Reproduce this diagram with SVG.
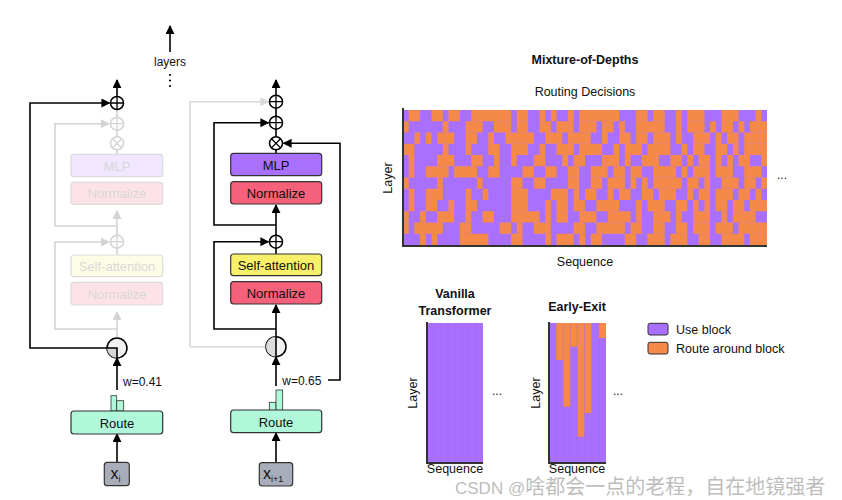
<svg xmlns="http://www.w3.org/2000/svg" width="842" height="500" viewBox="0 0 842 500">
<defs>
<marker id="ah" viewBox="0 0 10 10" refX="9" refY="5" markerWidth="9" markerHeight="9" markerUnits="userSpaceOnUse" orient="auto"><path d="M0,0 L10,5 L0,10 z" fill="#000"/></marker>
<marker id="ahg" viewBox="0 0 10 10" refX="9" refY="5" markerWidth="9" markerHeight="9" markerUnits="userSpaceOnUse" orient="auto"><path d="M0,0 L10,5 L0,10 z" fill="#d9d9d9"/></marker>
<g id="plus"><circle r="6.5" fill="#fff" stroke="#000" stroke-width="1.5"/><path d="M-6.5,0 H6.5 M0,-6.5 V6.5" stroke="#000" stroke-width="1.3"/></g>
<g id="times"><circle r="6.5" fill="#fff" stroke="#000" stroke-width="1.5"/><path d="M-4.6,-4.6 L4.6,4.6 M4.6,-4.6 L-4.6,4.6" stroke="#000" stroke-width="1.3"/></g>
</defs>
<style>
text{font-family:"Liberation Sans",Arial,sans-serif;fill:#111}
.box{stroke:#333;stroke-width:1.2}
.bt{font-size:13px;text-anchor:middle}
.ln{fill:none;stroke:#000;stroke-width:1.6}
.lg{fill:none;stroke:#d9d9d9;stroke-width:1.6}
.mlp{fill:#A970FF}.nrm{fill:#F5607A}.sa{fill:#F9F06A}.rt{fill:#AFF8DA}.xb{fill:#A9ADB9}
.pu{fill:#A970FF}.or{fill:#F5894A}
.ax{stroke:#333;stroke-width:2;fill:none}
.lbl{font-size:12.5px}
.ttl{font-size:12.5px;font-weight:bold;text-anchor:middle}
</style>
<rect width="842" height="500" fill="#fff"/>

<!-- layers indicator -->
<g id="layers">
<line x1="170" y1="52" x2="170" y2="26" class="ln" marker-end="url(#ah)"/>
<text x="170" y="66" font-size="12" text-anchor="middle">layers</text>
<circle cx="170" cy="75" r="1.1" fill="#000"/><circle cx="170" cy="80.5" r="1.1" fill="#000"/><circle cx="170" cy="86" r="1.1" fill="#000"/>
</g>

<!-- Panel 1 faded block -->
<g id="panel1-faded" opacity="0.17">
<path class="ln" d="M117,110 V117 M117,130 V137 M117,150 V154"/>
<path class="ln" d="M117,226 H55 V123.7 H109" marker-end="url(#ah)"/>
<path class="ln" d="M117,235 V211" marker-end="url(#ah)"/>
<path class="ln" d="M117,329 H55 V242 H109" marker-end="url(#ah)"/>
<path class="ln" d="M117,248 V255"/>
<path class="ln" d="M117,338 V312" marker-end="url(#ah)"/>
<use href="#plus" x="117" y="123.7"/>
<use href="#times" x="117" y="143.3"/>
<use href="#plus" x="117" y="241.7"/>
<rect class="box mlp" x="71" y="154.3" width="91.7" height="22.4" rx="3"/>
<text class="bt" x="117" y="170.5">MLP</text>
<rect class="box nrm" x="71" y="182.3" width="91.7" height="22" rx="3"/>
<text class="bt" x="117" y="198">Normalize</text>
<rect class="box sa" x="71" y="255" width="91.7" height="21.7" rx="3"/>
<text class="bt" x="117" y="270.5">Self-attention</text>
<rect class="box nrm" x="71" y="282.3" width="91.7" height="22.7" rx="3"/>
<text class="bt" x="117" y="298.5">Normalize</text>
</g>

<g id="connectors">
<path class="lg" d="M266,346.7 H190 V101.7 H268.5" marker-end="url(#ahg)"/>
<!-- panel 1 -->
<path class="ln" d="M117,96.5 V80" marker-end="url(#ah)"/>
<path class="ln" d="M107,348 H30 V103 H109.5" marker-end="url(#ah)"/>
<path class="ln" d="M117,390 V358" marker-end="url(#ah)"/>
<path class="ln" d="M117,462.3 V434" marker-end="url(#ah)"/>
<!-- panel 2 -->
<path class="ln" d="M276,95.2 V80" marker-end="url(#ah)"/>
<path class="ln" d="M276,108.2 V116.2 M276,129.2 V136.8 M276,149.8 V153.3 M276,248.2 V254"/>
<path class="ln" d="M276,225 H214 V122.7 H268.5" marker-end="url(#ah)"/>
<path class="ln" d="M276,235.2 V205" marker-end="url(#ah)"/>
<path class="ln" d="M276,329 H214 V241.7 H268.5" marker-end="url(#ah)"/>
<path class="ln" d="M276,336.7 V305" marker-end="url(#ah)"/>
<path class="ln" d="M328,380 H340 V143.3 H283.5" marker-end="url(#ah)"/>
<path class="ln" d="M276,386 V357" marker-end="url(#ah)"/>
<path class="ln" d="M276,462.7 V433" marker-end="url(#ah)"/>
</g>

<!-- Panel 1 nodes -->
<g id="p1-add"><use href="#plus" x="117" y="103"/></g>
<g id="p1-gate">
<circle cx="117" cy="348" r="10" fill="#f2f2f2" stroke="#000" stroke-width="1.5"/>
<path d="M107,348 A10,10 0 0 0 117,358 L117,348 Z" fill="#d6d6d6"/>
<path d="M107,348 H117 V358" fill="none" stroke="#000" stroke-width="1.6"/>
</g>
<g id="p1-route">
<rect x="111" y="395.7" width="5.7" height="15.3" fill="#AFF8DA" stroke="#333" stroke-width="0.8"/>
<rect x="116.7" y="400.7" width="7" height="10.3" fill="#AFF8DA" stroke="#333" stroke-width="0.8"/>
<rect class="box rt" x="71" y="411" width="91.7" height="23" rx="3"/>
<text class="bt" x="117" y="427.5">Route</text>
<text x="123" y="386" font-size="12">w=0.41</text>
</g>
<g id="p1-x">
<rect class="box xb" x="104.3" y="462.3" width="25" height="23.4" rx="3"/>
<text x="110.5" y="478.5" font-size="16">x<tspan font-size="9" dy="3">i</tspan></text>
</g>

<!-- Panel 2 nodes -->
<g id="p2-add1"><use href="#plus" x="276" y="101.7"/></g>
<g id="p2-add2"><use href="#plus" x="276" y="122.7"/></g>
<g id="p2-mul"><use href="#times" x="276" y="143.3"/></g>
<g id="p2-mlp"><rect class="box mlp" x="230.7" y="153.3" width="91" height="22.4" rx="3"/><text class="bt" x="276" y="169.5">MLP</text></g>
<g id="p2-norm2"><rect class="box nrm" x="230.7" y="181.7" width="91" height="22.3" rx="3"/><text class="bt" x="276" y="197.5">Normalize</text></g>
<g id="p2-add3"><use href="#plus" x="276" y="241.7"/></g>
<g id="p2-sa"><rect class="box sa" x="230.7" y="254" width="91" height="21.7" rx="3"/><text class="bt" x="276" y="269.5">Self-attention</text></g>
<g id="p2-norm1"><rect class="box nrm" x="230.7" y="281.7" width="91" height="22.3" rx="3"/><text class="bt" x="276" y="297.5">Normalize</text></g>
<g id="p2-gate">
<circle cx="276" cy="346.7" r="10" fill="#f2f2f2" stroke="#000" stroke-width="1.5"/>
<path d="M276,336.7 A10,10 0 0 0 276,356.7 Z" fill="#dcdcdc"/>
<path d="M276,336.7 V356.7" stroke="#000" stroke-width="1.6"/>
</g>
<g id="p2-route">
<rect x="269.3" y="402.3" width="6.7" height="8.7" fill="#AFF8DA" stroke="#333" stroke-width="0.8"/>
<rect x="276" y="390" width="6.7" height="21" fill="#AFF8DA" stroke="#333" stroke-width="0.8"/>
<rect class="box rt" x="230.7" y="410" width="91" height="22.7" rx="3"/>
<text class="bt" x="276" y="426.5">Route</text>
<text x="282.3" y="384.5" font-size="12">w=0.65</text>
</g>
<g id="p2-x">
<rect class="box xb" x="259.3" y="462.7" width="33.4" height="23.3" rx="3"/>
<text x="263" y="478.5" font-size="16">x<tspan font-size="9" dy="3">i+1</tspan></text>
</g>

<!-- Mixture-of-Depths heatmap -->
<g id="mod">
<text class="ttl" x="585" y="64" font-size="12">Mixture-of-Depths</text>
<text x="585" y="96" font-size="12.5" text-anchor="middle" fill="#222">Routing Decisions</text>
<rect class="pu" x="403" y="110" width="364" height="135"/>
<g class="or" transform="translate(403,110) scale(5.6875,11.25)">
<rect x="1" y="0" width="2" height="1"/><rect x="5" y="0" width="2" height="1"/><rect x="8" y="0" width="2" height="1"/><rect x="12" y="0" width="7" height="1"/><rect x="20" y="0" width="2" height="1"/><rect x="24" y="0" width="1" height="1"/><rect x="26" y="0" width="1" height="1"/><rect x="29" y="0" width="1" height="1"/><rect x="31" y="0" width="7" height="1"/><rect x="41" y="0" width="2" height="1"/><rect x="44" y="0" width="2" height="1"/><rect x="48" y="0" width="1" height="1"/><rect x="50" y="0" width="3" height="1"/><rect x="56" y="0" width="3" height="1"/><rect x="62" y="0" width="1" height="1"/>
<rect x="0" y="1" width="1" height="1"/><rect x="7" y="1" width="1" height="1"/><rect x="11" y="1" width="3" height="1"/><rect x="16" y="1" width="3" height="1"/><rect x="20" y="1" width="2" height="1"/><rect x="24" y="1" width="2" height="1"/><rect x="27" y="1" width="3" height="1"/><rect x="31" y="1" width="3" height="1"/><rect x="35" y="1" width="2" height="1"/><rect x="38" y="1" width="1" height="1"/><rect x="41" y="1" width="5" height="1"/><rect x="48" y="1" width="1" height="1"/><rect x="50" y="1" width="3" height="1"/><rect x="54" y="1" width="1" height="1"/><rect x="56" y="1" width="2" height="1"/><rect x="59" y="1" width="1" height="1"/><rect x="61" y="1" width="3" height="1"/>
<rect x="2" y="2" width="1" height="1"/><rect x="4" y="2" width="1" height="1"/><rect x="6" y="2" width="3" height="1"/><rect x="11" y="2" width="2" height="1"/><rect x="15" y="2" width="1" height="1"/><rect x="18" y="2" width="5" height="1"/><rect x="25" y="2" width="3" height="1"/><rect x="29" y="2" width="4" height="1"/><rect x="35" y="2" width="1" height="1"/><rect x="38" y="2" width="2" height="1"/><rect x="41" y="2" width="2" height="1"/><rect x="44" y="2" width="3" height="1"/><rect x="48" y="2" width="1" height="1"/><rect x="51" y="2" width="3" height="1"/><rect x="55" y="2" width="1" height="1"/><rect x="57" y="2" width="2" height="1"/><rect x="60" y="2" width="4" height="1"/>
<rect x="0" y="3" width="2" height="1"/><rect x="7" y="3" width="1" height="1"/><rect x="11" y="3" width="1" height="1"/><rect x="15" y="3" width="2" height="1"/><rect x="19" y="3" width="3" height="1"/><rect x="24" y="3" width="1" height="1"/><rect x="27" y="3" width="3" height="1"/><rect x="31" y="3" width="4" height="1"/><rect x="37" y="3" width="1" height="1"/><rect x="39" y="3" width="3" height="1"/><rect x="43" y="3" width="4" height="1"/><rect x="49" y="3" width="1" height="1"/><rect x="51" y="3" width="2" height="1"/><rect x="55" y="3" width="2" height="1"/><rect x="58" y="3" width="1" height="1"/><rect x="60" y="3" width="4" height="1"/>
<rect x="1" y="4" width="1" height="1"/><rect x="6" y="4" width="3" height="1"/><rect x="12" y="4" width="2" height="1"/><rect x="16" y="4" width="1" height="1"/><rect x="19" y="4" width="1" height="1"/><rect x="23" y="4" width="2" height="1"/><rect x="28" y="4" width="1" height="1"/><rect x="30" y="4" width="2" height="1"/><rect x="35" y="4" width="3" height="1"/><rect x="39" y="4" width="1" height="1"/><rect x="42" y="4" width="3" height="1"/><rect x="47" y="4" width="2" height="1"/><rect x="50" y="4" width="1" height="1"/><rect x="52" y="4" width="2" height="1"/><rect x="55" y="4" width="1" height="1"/><rect x="57" y="4" width="1" height="1"/><rect x="59" y="4" width="2" height="1"/><rect x="63" y="4" width="1" height="1"/>
<rect x="1" y="5" width="1" height="1"/><rect x="4" y="5" width="4" height="1"/><rect x="9" y="5" width="4" height="1"/><rect x="15" y="5" width="2" height="1"/><rect x="21" y="5" width="2" height="1"/><rect x="25" y="5" width="2" height="1"/><rect x="29" y="5" width="2" height="1"/><rect x="33" y="5" width="3" height="1"/><rect x="37" y="5" width="2" height="1"/><rect x="40" y="5" width="2" height="1"/><rect x="44" y="5" width="4" height="1"/><rect x="49" y="5" width="1" height="1"/><rect x="51" y="5" width="3" height="1"/><rect x="55" y="5" width="3" height="1"/><rect x="60" y="5" width="3" height="1"/>
<rect x="0" y="6" width="1" height="1"/><rect x="6" y="6" width="1" height="1"/><rect x="13" y="6" width="1" height="1"/><rect x="19" y="6" width="2" height="1"/><rect x="23" y="6" width="2" height="1"/><rect x="29" y="6" width="2" height="1"/><rect x="33" y="6" width="2" height="1"/><rect x="36" y="6" width="3" height="1"/><rect x="40" y="6" width="1" height="1"/><rect x="42" y="6" width="1" height="1"/><rect x="44" y="6" width="5" height="1"/><rect x="50" y="6" width="2" height="1"/><rect x="53" y="6" width="1" height="1"/><rect x="56" y="6" width="3" height="1"/><rect x="60" y="6" width="2" height="1"/><rect x="63" y="6" width="1" height="1"/>
<rect x="1" y="7" width="1" height="1"/><rect x="4" y="7" width="3" height="1"/><rect x="11" y="7" width="1" height="1"/><rect x="14" y="7" width="1" height="1"/><rect x="19" y="7" width="3" height="1"/><rect x="26" y="7" width="3" height="1"/><rect x="30" y="7" width="1" height="1"/><rect x="32" y="7" width="2" height="1"/><rect x="36" y="7" width="1" height="1"/><rect x="38" y="7" width="2" height="1"/><rect x="42" y="7" width="2" height="1"/><rect x="45" y="7" width="3" height="1"/><rect x="50" y="7" width="1" height="1"/><rect x="52" y="7" width="2" height="1"/><rect x="55" y="7" width="3" height="1"/><rect x="59" y="7" width="2" height="1"/><rect x="62" y="7" width="1" height="1"/>
<rect x="1" y="8" width="1" height="1"/><rect x="4" y="8" width="2" height="1"/><rect x="8" y="8" width="1" height="1"/><rect x="11" y="8" width="2" height="1"/><rect x="19" y="8" width="3" height="1"/><rect x="25" y="8" width="1" height="1"/><rect x="27" y="8" width="2" height="1"/><rect x="30" y="8" width="2" height="1"/><rect x="34" y="8" width="4" height="1"/><rect x="41" y="8" width="1" height="1"/><rect x="43" y="8" width="3" height="1"/><rect x="48" y="8" width="2" height="1"/><rect x="51" y="8" width="1" height="1"/><rect x="53" y="8" width="1" height="1"/><rect x="55" y="8" width="2" height="1"/><rect x="58" y="8" width="2" height="1"/><rect x="61" y="8" width="3" height="1"/>
<rect x="0" y="9" width="1" height="1"/><rect x="3" y="9" width="1" height="1"/><rect x="6" y="9" width="3" height="1"/><rect x="11" y="9" width="1" height="1"/><rect x="14" y="9" width="2" height="1"/><rect x="19" y="9" width="5" height="1"/><rect x="25" y="9" width="1" height="1"/><rect x="27" y="9" width="2" height="1"/><rect x="31" y="9" width="3" height="1"/><rect x="36" y="9" width="4" height="1"/><rect x="41" y="9" width="1" height="1"/><rect x="44" y="9" width="3" height="1"/><rect x="48" y="9" width="1" height="1"/><rect x="51" y="9" width="3" height="1"/><rect x="56" y="9" width="1" height="1"/><rect x="58" y="9" width="4" height="1"/>
<rect x="0" y="10" width="1" height="1"/><rect x="2" y="10" width="5" height="1"/><rect x="10" y="10" width="2" height="1"/><rect x="17" y="10" width="2" height="1"/><rect x="20" y="10" width="1" height="1"/><rect x="23" y="10" width="3" height="1"/><rect x="30" y="10" width="2" height="1"/><rect x="34" y="10" width="5" height="1"/><rect x="40" y="10" width="2" height="1"/><rect x="44" y="10" width="2" height="1"/><rect x="48" y="10" width="2" height="1"/><rect x="51" y="10" width="3" height="1"/><rect x="55" y="10" width="3" height="1"/><rect x="59" y="10" width="5" height="1"/>
<rect x="3" y="11" width="1" height="1"/><rect x="5" y="11" width="1" height="1"/><rect x="10" y="11" width="5" height="1"/><rect x="19" y="11" width="2" height="1"/><rect x="25" y="11" width="1" height="1"/><rect x="27" y="11" width="3" height="1"/><rect x="31" y="11" width="1" height="1"/><rect x="33" y="11" width="2" height="1"/><rect x="39" y="11" width="2" height="1"/><rect x="43" y="11" width="3" height="1"/><rect x="47" y="11" width="3" height="1"/><rect x="52" y="11" width="2" height="1"/><rect x="56" y="11" width="4" height="1"/><rect x="61" y="11" width="3" height="1"/>
</g>
<path class="ax" d="M403,108 V246 H767"/>
<text class="lbl" transform="translate(392,178) rotate(-90)" text-anchor="middle">Layer</text>
<text class="lbl" x="585" y="266" text-anchor="middle">Sequence</text>
<text x="782" y="179" font-size="12" text-anchor="middle">...</text>
</g>

<!-- Vanilla Transformer -->
<g id="vanilla">
<text class="ttl" x="455" y="298">Vanilla</text>
<text class="ttl" x="455" y="315">Transformer</text>
<rect class="pu" x="427" y="323" width="56" height="139"/>
<path d="M434,323 V462 M441,323 V462 M448,323 V462 M455,323 V462 M462,323 V462 M469,323 V462 M476,323 V462" stroke="#9b63f2" stroke-width="0.5" opacity="0.5"/>
<path class="ax" d="M427,322 V463 H483"/>
<text class="lbl" transform="translate(417,393) rotate(-90)" text-anchor="middle">Layer</text>
<text class="lbl" x="455" y="473" text-anchor="middle">Sequence</text>
<text x="497" y="395" font-size="12" text-anchor="middle">...</text>
</g>

<!-- Early-Exit -->
<g id="early-exit">
<text class="ttl" x="577" y="311">Early-Exit</text>
<rect class="pu" x="549" y="323" width="57" height="139"/>
<rect class="or" x="556.1" y="323" width="7.1" height="37"/>
<rect class="or" x="563.2" y="323" width="7.1" height="83.7"/>
<rect class="or" x="570.3" y="323" width="7.1" height="23.7"/>
<rect class="or" x="577.4" y="323" width="7.1" height="113.7"/>
<rect class="or" x="584.5" y="323" width="7.1" height="90"/>
<rect class="or" x="598.7" y="323" width="7.3" height="15"/>
<path d="M556.1,323 V462 M563.2,323 V462 M570.3,323 V462 M577.4,323 V462 M584.5,323 V462 M591.6,323 V462 M598.7,323 V462" stroke="#9b63f2" stroke-width="0.5" opacity="0.5"/>
<path class="ax" d="M549,322 V463 H606"/>
<text class="lbl" transform="translate(540,393) rotate(-90)" text-anchor="middle">Layer</text>
<text class="lbl" x="577" y="473" text-anchor="middle">Sequence</text>
<text x="618" y="395" font-size="12" text-anchor="middle">...</text>
</g>

<!-- Legend -->
<g id="legend">
<rect class="pu" x="648" y="323.3" width="20" height="11.7" rx="2" stroke="#333" stroke-width="1"/>
<text class="lbl" x="676" y="334">Use block</text>
<rect class="or" x="648" y="342.3" width="20" height="11.7" rx="2" stroke="#333" stroke-width="1"/>
<text class="lbl" x="676" y="353">Route around block</text>
</g>

<!-- watermark -->
<text x="455" y="494" font-size="17" style="fill:#bdbdbd;font-family:'Liberation Sans','Noto Sans CJK SC',sans-serif">CSDN @<tspan font-size="20">啥都会一点的老程，自在地镜强者</tspan></text>
</svg>
